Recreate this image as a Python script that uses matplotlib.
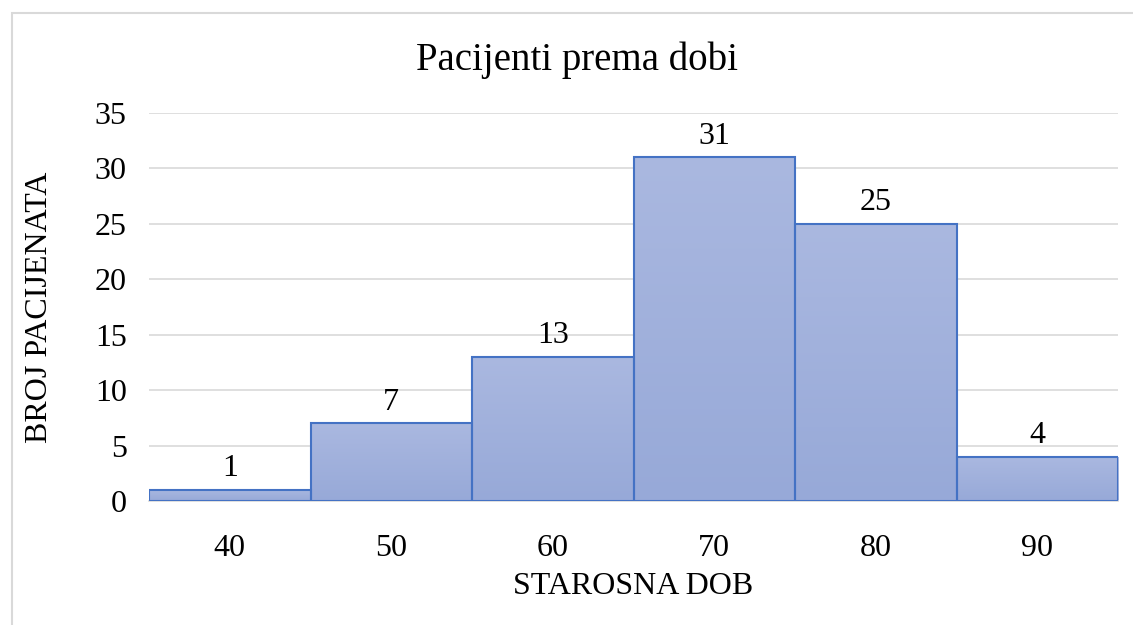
import matplotlib
matplotlib.use("Agg")
import matplotlib.pyplot as plt
import numpy as np
from matplotlib.patches import Rectangle
from matplotlib.colors import LinearSegmentedColormap

categories = ["40", "50", "60", "70", "80", "90"]
values = [1, 7, 13, 31, 25, 4]

W, H = 1133, 625
fig = plt.figure(figsize=(W / 100, H / 100), dpi=100)
plt.rcParams['font.family'] = ['Liberation Serif', 'DejaVu Serif']

# outer chart border
fig.patches.append(Rectangle((12 / W, -0.1), 1.2, 1 - 13 / H + 0.1,
                             transform=fig.transFigure, fill=False,
                             edgecolor='#D9D9D9', linewidth=1.5))

left, right, top, bottom = 149, 1118, 113, 501
ax = fig.add_axes([left / W, 1 - bottom / H, (right - left) / W, (bottom - top) / H])

x = np.arange(len(categories))
ax.set_yticks(range(0, 36, 5))
ax.set_xticks(x)
ax.set_xticklabels(categories)

for s in ['top', 'right', 'left']:
    ax.spines[s].set_visible(False)
ax.spines['bottom'].set_color('#D9D9D9')
ax.spines['bottom'].set_linewidth(1.2)
ax.yaxis.grid(True, color='#D9D9D9', linewidth=1.2)
ax.set_axisbelow(True)
ax.tick_params(axis='both', length=0, labelsize=23, colors='black')
ax.tick_params(axis='y', pad=16)
ax.tick_params(axis='x', pad=24)

cmap = LinearSegmentedColormap.from_list('g', ['#97A9D8', '#AAB8E0'])
grad = np.linspace(0, 1, 256).reshape(-1, 1)
bars = ax.bar(x, values, width=1.0, facecolor='none', edgecolor='#4472C4', linewidth=1.5, zorder=3)
for b, v in zip(bars, values):
    bx, by, bw, bh = b.get_x(), b.get_y(), b.get_width(), b.get_height()
    im = ax.imshow(grad, cmap=cmap, aspect='auto', origin='lower',
                   extent=(bx, bx + bw, by, by + bh), zorder=2)
    im.set_clip_path(b)
    ax.text(bx + bw / 2, v + 0.6, str(v), ha='center', va='bottom', fontsize=23)
ax.set_xlim(-0.5, len(categories) - 0.5)
ax.set_ylim(0, 35)

fig.text(633 / W, 1 - 587 / H, 'STAROSNA DOB', ha='center', va='center', fontsize=23)
fig.text(40 / W, 1 - 307 / H, 'BROJ PACIJENATA', ha='center', va='center', rotation=90, fontsize=23)
fig.text(577 / W, 1 - 60 / H, 'Pacijenti prema dobi', ha='center', va='center', fontsize=28)

fig.savefig('out.png', dpi=100)
